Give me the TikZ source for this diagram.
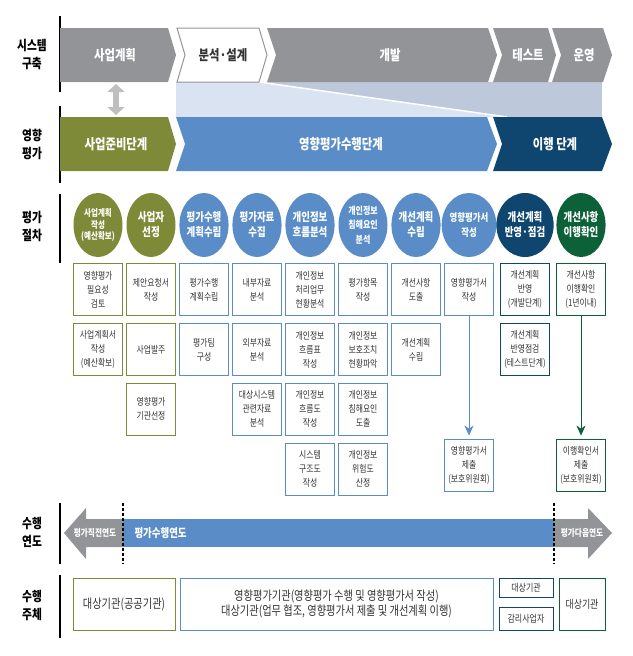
\documentclass[tikz,border=0pt]{standalone}
\usepackage{fontspec}
\setmainfont[FakeStretch=0.8]{Noto Sans CJK KR}
\usepackage{xcolor}
\usepackage{tikz}
\usetikzlibrary{positioning}
\usetikzlibrary{shapes.geometric}
\usetikzlibrary{arrows.meta}

\definecolor{chevgray}{HTML}{939498}
\definecolor{prepolive}{HTML}{7E8A38}
\definecolor{evalblue}{HTML}{5A8DC8}
\definecolor{implnavy}{HTML}{0F4670}
\definecolor{checkgreen}{HTML}{0C6138}
\definecolor{palebg}{HTML}{DAE3F1}
\definecolor{grayblue}{HTML}{BDC8DA}
\definecolor{arrowgray}{HTML}{BFBFBF}
\definecolor{txtgray}{HTML}{333333}

\tikzset{
  sidelabel/.style={align=center, font=\fontsize{13.4}{18}\selectfont\bfseries},
  barlabel/.style={text=white, font=\fontsize{14.2}{16}\selectfont\bfseries},
  stage/.style={ellipse, minimum width=49pt, minimum height=64pt, inner sep=0pt,
    align=center, text=white, font=\fontsize{11.8}{15}\selectfont\bfseries},
  task/.style={draw, line width=0.8pt, minimum width=49pt, minimum height=52pt,
    inner sep=0pt, align=center, text=txtgray, font=\fontsize{9.8}{14}\selectfont},
  actor/.style={draw, line width=0.8pt, inner sep=0pt, align=center, text=txtgray},
}

\begin{document}
\begin{tikzpicture}[x=1pt, y=-1pt]
		\useasboundingbox (0,0) rectangle (632,656);
		% side lines and labels
		\draw[line width=2pt] (60,16) -- (60,92);
		\draw[line width=2pt] (60,106) -- (60,183);
		\draw[line width=2pt] (60,194) -- (60,263);
		\draw[line width=2pt] (60,503) -- (60,564);
		\draw[line width=2pt] (60,575) -- (60,638);
		\node[sidelabel] (sys) at (32,54) {시스템\\구축};
		\node[sidelabel] (pia) at (32,144) {영향\\평가};
		\node[sidelabel] (proc) at (32,226) {평가\\절차};
		\node[sidelabel] (year) at (32,532) {수행\\연도};
		\node[sidelabel] (who) at (32,605) {수행\\주체};
		% band between the two rows
		\fill[grayblue] (176,82) rectangle (602,117);
		\fill[palebg] (176,82) -- (257,82) -- (503,117) -- (176,117) -- cycle;
		\draw[white, line width=1.5pt] (259,82) -- (507,117);
		% system building
		\fill[chevgray] (60,28) -- (168,28) -- (176,55) -- (168,82) -- (60,82) -- cycle;
		\draw[chevgray, fill=white, line width=1pt] (177,28) -- (259,28) -- (267,55) -- (259,82) -- (177,82) -- (185,55) -- cycle;
		\fill[chevgray] (267,28) -- (488,28) -- (497,55) -- (488,82) -- (267,82) -- (276,55) -- cycle;
		\fill[chevgray] (493,28) -- (548,28) -- (556,55) -- (548,82) -- (493,82) -- (502,55) -- cycle;
		\fill[chevgray] (552,28) -- (603,28) -- (612,55) -- (603,82) -- (552,82) -- (561,55) -- cycle;
		\node[barlabel] (plan) at (115,55) {사업계획};
		\node[barlabel, text=txtgray] (design) at (223,55) {분석·설계};
		\node[barlabel] (dev) at (390,55) {개발};
		\node[barlabel] (test) at (528,55) {테스트};
		\node[barlabel] (run) at (584,55) {운영};
		% impact assessment
		\fill[prepolive] (60,117) -- (168,117) -- (176,144) -- (168,171) -- (60,171) -- cycle;
		\fill[evalblue] (176,117) -- (487,117) -- (497,144) -- (487,171) -- (176,171) -- (185,144) -- cycle;
		\fill[implnavy] (493,117) -- (602,117) -- (612,144) -- (602,171) -- (493,171) -- (502,144) -- cycle;
		\node[barlabel] (prep) at (116,144) {사업준비단계};
		\node[barlabel] (exec) at (341,144) {영향평가수행단계};
		\node[barlabel] (impl) at (555,144) {이행 단계};
		\coordinate (dtop) at (116,84);
		\coordinate (dbot) at (116,115);
		\draw[arrowgray, line width=6pt, {Triangle[width=17pt,length=8pt]}-{Triangle[width=17pt,length=8pt]}] (dtop) -- (dbot);
		% stages
		\node[stage, fill=prepolive, font=\fontsize{9.4}{11.5}\selectfont\bfseries] (c1) at (98,225) {사업계획\\작성\\(예산확보)};
		\node[stage, fill=prepolive, font=\fontsize{12}{15}\selectfont\bfseries] (c2) at (151,225) {사업자\\선정};
		\node[stage, fill=evalblue] (c3) at (204,225) {평가수행\\계획수립};
		\node[stage, fill=evalblue] (c4) at (257,225) {평가자료\\수집};
		\node[stage, fill=evalblue] (c5) at (310,225) {개인정보\\흐름분석};
		\node[stage, fill=evalblue, font=\fontsize{10}{14.5}\selectfont\bfseries] (c6) at (363,225) {개인정보\\침해요인\\분석};
		\node[stage, fill=evalblue] (c7) at (416,225) {개선계획\\수립};
		\node[stage, fill=evalblue, font=\fontsize{10.5}{15}\selectfont\bfseries] (c8) at (469,225) {영향평가서\\작성};
		\node[stage, fill=implnavy] (c9) at (525,225) {개선계획\\반영·점검};
		\node[stage, fill=checkgreen] (c10) at (581,225) {개선사항\\이행확인};
		% tasks
		\node[task, draw=prepolive, below=6pt of c1] (t1a) {영향평가\\필요성\\검토};
		\node[task, draw=prepolive, below=7pt of t1a] (t1b) {사업계획서\\작성\\(예산확보)};
		\node[task, draw=prepolive, below=6pt of c2] (t2a) {제안요청서\\작성};
		\node[task, draw=prepolive, below=7pt of t2a] (t2b) {사업발주};
		\node[task, draw=prepolive, below=7pt of t2b] (t2c) {영향평가\\기관선정};
		\node[task, draw=evalblue, below=6pt of c3] (t3a) {평가수행\\계획수립};
		\node[task, draw=evalblue, below=7pt of t3a] (t3b) {평가팀\\구성};
		\node[task, draw=evalblue, below=6pt of c4] (t4a) {내부자료\\분석};
		\node[task, draw=evalblue, below=7pt of t4a] (t4b) {외부자료\\분석};
		\node[task, draw=evalblue, below=7pt of t4b] (t4c) {대상시스템\\관련자료\\분석};
		\node[task, draw=evalblue, below=6pt of c5] (t5a) {개인정보\\처리업무\\현황분석};
		\node[task, draw=evalblue, below=7pt of t5a] (t5b) {개인정보\\흐름표\\작성};
		\node[task, draw=evalblue, below=7pt of t5b] (t5c) {개인정보\\흐름도\\작성};
		\node[task, draw=evalblue, below=7pt of t5c] (t5d) {시스템\\구조도\\작성};
		\node[task, draw=evalblue, below=6pt of c6] (t6a) {평가항목\\작성};
		\node[task, draw=evalblue, below=7pt of t6a] (t6b) {개인정보\\보호조치\\현황파악};
		\node[task, draw=evalblue, below=7pt of t6b] (t6c) {개인정보\\침해요인\\도출};
		\node[task, draw=evalblue, below=7pt of t6c] (t6d) {개인정보\\위험도\\산정};
		\node[task, draw=evalblue, below=6pt of c7] (t7a) {개선사항\\도출};
		\node[task, draw=evalblue, below=7pt of t7a] (t7b) {개선계획\\수립};
		\node[task, draw=evalblue, below=6pt of c8] (t8a) {영향평가서\\작성};
		\node[task, draw=evalblue] (t8d) at (469,465) {영향평가서\\제출\\(보호위원회)};
		\node[task, draw=implnavy, below=6pt of c9] (t9a) {개선계획\\반영\\(개발단계)};
		\node[task, draw=implnavy, below=7pt of t9a] (t9b) {개선계획\\반영점검\\(테스트단계)};
		\node[task, draw=checkgreen, below=6pt of c10] (t10a) {개선사항\\이행확인\\(1년이내)};
		\node[task, draw=checkgreen] (t10d) at (581,465) {이행확인서\\제출\\(보호위원회)};
		\draw[evalblue, line width=1pt, -{Stealth[length=10pt,width=9pt,inset=3pt]}, shorten >=3pt] (t8a) -- (t8d);
		\draw[checkgreen, line width=1pt, -{Stealth[length=10pt,width=9pt,inset=3pt]}, shorten >=3pt] (t10a) -- (t10d);
		% years
		\fill[chevgray] (64,533) -- (86,508) -- (86,519) -- (123,519) -- (123,547) -- (86,547) -- (86,559) -- cycle;
		\fill[evalblue] (123,519) rectangle (554,547);
		\fill[chevgray] (554,519) -- (588,519) -- (588,508) -- (612,533) -- (588,559) -- (588,547) -- (554,547) -- cycle;
		\draw[line width=1.3pt, dash pattern=on 3pt off 2pt] (123,503) -- (123,564);
		\draw[line width=1.3pt, dash pattern=on 3pt off 2pt] (554,503) -- (554,564);
		\node[text=white, font=\fontsize{9.6}{10}\selectfont\bfseries] (ybefore) at (95,533) {평가직전연도};
		\node[text=white, font=\fontsize{11.8}{12}\selectfont\bfseries, anchor=west] (ynow) at (131,533) {평가수행연도};
		\node[text=white, font=\fontsize{9.6}{10}\selectfont\bfseries] (yafter) at (582,533) {평가다음연도};
		% actors
		\node[actor, draw=prepolive, minimum width=102pt, minimum height=52pt, font=\fontsize{12.8}{15}\selectfont] (ownA) at (124,604) {대상기관(공공기관)};
		\node[actor, draw=evalblue, minimum width=313pt, minimum height=52pt, font=\fontsize{12.8}{15.5}\selectfont] (agency) at (336.5,604) {영향평가기관(영향평가 수행 및 영향평가서 작성)\\대상기관(업무 협조, 영향평가서 제출 및 개선계획 이행)};
		\node[actor, draw=implnavy, minimum width=54pt, minimum height=19pt, font=\fontsize{10}{11}\selectfont] (ownB) at (526,587.5) {대상기관};
		\node[actor, draw=implnavy, minimum width=54pt, minimum height=23pt, font=\fontsize{10}{11}\selectfont] (audit) at (526,618.5) {감리사업자};
		\node[actor, draw=checkgreen, minimum width=46pt, minimum height=52pt, font=\fontsize{11.2}{12}\selectfont] (ownC) at (582,604) {대상기관};
	\end{tikzpicture}
\end{document}
